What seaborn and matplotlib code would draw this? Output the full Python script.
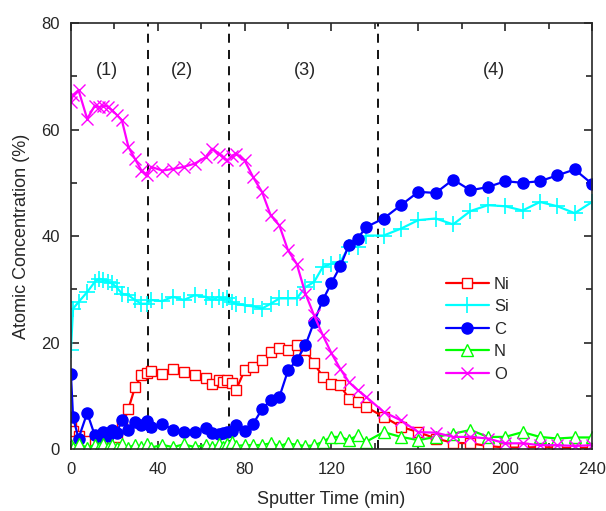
import numpy as np
import pandas as pd
import matplotlib
matplotlib.use("Agg")
import matplotlib.pyplot as plt
from matplotlib.ticker import MultipleLocator
import seaborn as sns

# sputter time (min), shared by all elements
time_min = [0, 1, 3.5, 7.5, 11, 13, 15, 17, 19, 21,
            23.5, 26.5, 29.5, 32.5, 35, 37, 42, 47, 52, 57,
            62, 65, 68, 70, 72, 74, 76, 80, 84, 88,
            92, 96, 100, 104, 108, 112, 116, 120, 124, 128,
            132, 136, 144, 152, 160, 168, 176, 184, 192, 200,
            208, 216, 224, 232, 240]

ni = [5.1, 3.5, 2.4, 1.5, 1.2, 1.1, 1.1, 1.1, 1.4, 2.3,
      4.2, 7.6, 11.6, 13.9, 14.3, 14.6, 14.2, 15.1, 14.5, 13.9,
      13.3, 12.3, 12.9, 12.6, 13.0, 12.4, 11.1, 14.8, 15.4, 16.7,
      18.3, 18.9, 18.6, 19.5, 18.6, 16.1, 13.6, 12.3, 12.0, 9.5,
      8.9, 7.9, 6.1, 4.2, 3.2, 2.0, 1.2, 1.1, 0.6, 0.3,
      0.3, 0.4, 0.3, 0.2, 0.3]

si = [18.6, 26.4, 27.6, 29.5, 31.4, 32.0, 31.8, 31.4, 31.1, 30.4,
      29.2, 28.9, 28.0, 27.3, 27.3, 28.0, 27.8, 28.6, 28.0, 28.9,
      28.6, 28.0, 28.6, 28.0, 28.3, 27.6, 27.3, 27.0, 26.8, 26.4,
      27.3, 28.3, 28.3, 28.3, 30.4, 31.4, 34.2, 34.8, 35.1, 38.0,
      38.0, 40.1, 40.1, 41.4, 43.0, 43.3, 42.2, 44.7, 45.8, 45.6,
      44.8, 46.4, 45.6, 44.3, 46.4]

c = [14.2, 6.0, 2.0, 6.8, 2.6, 2.3, 3.2, 2.5, 3.6, 3.0,
     5.4, 3.6, 5.1, 4.5, 5.3, 4.2, 4.8, 3.6, 3.2, 3.2,
     4.0, 3.0, 2.9, 3.0, 3.2, 3.4, 4.5, 3.5, 4.8, 7.5,
     9.2, 9.8, 14.8, 16.7, 19.5, 23.9, 28.0, 31.2, 34.3, 38.3,
     39.5, 41.7, 43.3, 45.8, 48.3, 48.1, 50.6, 48.6, 49.2, 50.3,
     50.0, 50.3, 51.4, 52.5, 49.8]

n = [0.8, 0.3, 0.9, 0.3, 0.8, 0.3, 0.9, 0.3, 0.8, 0.3,
     0.9, 0.3, 0.8, 0.4, 0.9, 0.3, 0.8, 0.4, 0.9, 0.4,
     0.8, 0.4, 0.9, 0.5, 1.0, 1.4, 0.6, 0.75, 0.75, 0.8,
     1.1, 0.6, 1.1, 0.8, 0.6, 0.7, 1.4, 2.3, 2.3, 1.7,
     2.6, 1.4, 3.2, 2.3, 1.7, 2.3, 2.9, 3.6, 2.3, 2.3,
     3.2, 2.3, 2.0, 2.2, 2.2]

o = [65.2, 66.5, 67.4, 62.0, 64.5, 64.2, 64.5, 64.3, 63.6, 62.8,
     61.7, 56.7, 54.5, 52.3, 51.4, 53.0, 52.3, 52.6, 53.0, 53.6,
     54.8, 56.4, 55.5, 54.8, 54.2, 55.0, 55.5, 54.2, 51.0, 48.3,
     43.9, 42.0, 37.3, 34.8, 29.2, 25.1, 21.4, 18.0, 15.1, 12.6,
     11.1, 9.8, 7.0, 5.4, 3.2, 3.1, 2.3, 2.3, 2.0, 1.1,
     1.1, 0.75, 0.75, 0.6, 0.75]

boundaries = [35.5, 73, 141.5]
stage_labels = ["(1)", "(2)", "(3)", "(4)"]
stage_pos = [16.5, 51, 108, 195]

sns.set_theme(style="ticks")
plt.rcParams["font.family"] = ["Liberation Sans", "DejaVu Sans"]

fig = plt.figure(figsize=(6.06, 5.11), dpi=100)
ax = fig.add_axes([0.117, 0.121, 0.86, 0.834])

series = [
    ("Ni", ni, dict(color="#ff0000", marker="s", markersize=7, markerfacecolor="white",
                    markeredgecolor="#ff0000", markeredgewidth=1.0)),
    ("Si", si, dict(color="#00ffff", marker="+", markersize=11, markeredgecolor="#00ffff",
                    markeredgewidth=1.2)),
    ("C", c, dict(color="#0000ff", marker="o", markersize=8, markerfacecolor="#0000ff",
                  markeredgecolor="#0000ff", markeredgewidth=1.0)),
    ("N", n, dict(color="#00ff00", marker="^", markersize=8, markerfacecolor="white",
                  markeredgecolor="#00ff00", markeredgewidth=1.0)),
    ("O", o, dict(color="#ff00ff", marker="x", markersize=9, markeredgecolor="#ff00ff",
                  markeredgewidth=1.0)),
]

for name, vals, style in series:
    df = pd.DataFrame({"t": time_min, "v": vals})
    sns.lineplot(data=df, x="t", y="v", ax=ax, label=name, linewidth=1.6,
                 errorbar=None, **style)

for b in boundaries:
    ax.axvline(b, color="black", linestyle=(0, (5, 4)), linewidth=1.3, zorder=1)

for lab, xp in zip(stage_labels, stage_pos):
    ax.text(xp, 71, lab, ha="center", va="center", fontsize=13)

ax.set_xlim(0, 240)
ax.set_ylim(0, 80)
ax.xaxis.set_major_locator(MultipleLocator(40))
ax.xaxis.set_minor_locator(MultipleLocator(20))
ax.yaxis.set_major_locator(MultipleLocator(20))
ax.yaxis.set_minor_locator(MultipleLocator(10))
ax.tick_params(which="both", direction="in", top=True, right=True, labelsize=12)
ax.tick_params(which="major", length=6, width=1.2)
ax.tick_params(which="minor", length=4, width=1.2)
ax.tick_params(axis="x", which="major", pad=9)
ax.tick_params(axis="y", which="major", pad=8)
for sp in ax.spines.values():
    sp.set_linewidth(1.2)

ax.set_xlabel("Sputter Time (min)", fontsize=13, labelpad=10)
ax.set_ylabel("Atomic Concentration (%)", fontsize=13, labelpad=8)

ax.legend(loc="upper left", bbox_to_anchor=(0.69, 0.44), frameon=False, fontsize=12,
          handlelength=2.6, labelspacing=0.45, handletextpad=0.3)

fig.savefig("out.png", dpi=100)
